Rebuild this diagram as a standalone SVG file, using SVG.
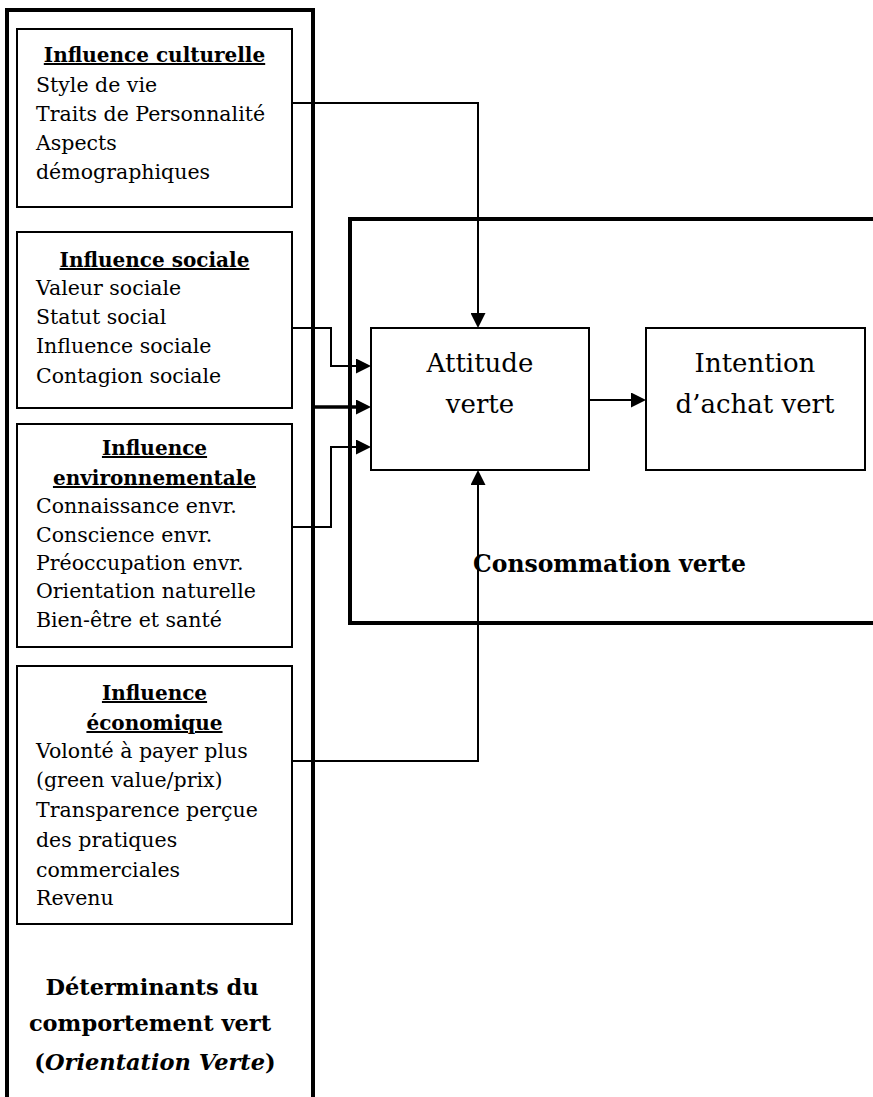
<svg xmlns="http://www.w3.org/2000/svg" width="873" height="1097" viewBox="0 0 873 1097">
<style>
.frame{fill:none;stroke:#000;stroke-width:4}
.box{fill:#fff;stroke:#000;stroke-width:2}
.t{font-family:"DejaVu Serif","Liberation Serif",serif;font-size:20.5px;fill:#000}
.h{font-family:"DejaVu Serif","Liberation Serif",serif;font-size:20px;font-weight:bold;fill:#000;text-anchor:middle;text-decoration:underline}
.big{font-family:"DejaVu Serif","Liberation Serif",serif;font-size:26px;fill:#000;text-anchor:middle}
.lbl{font-family:"DejaVu Serif","Liberation Serif",serif;font-size:22.5px;font-weight:bold;fill:#000}
.c{fill:none;stroke:#000;stroke-width:2}
.cb{fill:none;stroke:#000;stroke-width:3.5}
</style>
<defs>
<marker id="ah" markerUnits="userSpaceOnUse" markerWidth="15" markerHeight="15" refX="0" refY="7.5" orient="auto">
<path d="M0,0 L15,7.5 L0,15 z" fill="#000"/>
</marker>
</defs>
<rect width="873" height="1097" fill="#fff"/>
<g id="frame-determinants">
<path class="frame" d="M7,1097 V10 H313 V1097"/>
<text class="lbl" x="152" y="995" text-anchor="middle">Déterminants du</text>
<text class="lbl" x="150" y="1031" text-anchor="middle">comportement vert</text>
<text class="lbl" x="155" y="1070" text-anchor="middle">(<tspan font-style="italic">Orientation Verte</tspan>)</text>
</g>
<g id="frame-consommation">
<path class="frame" d="M873,219 H350 V623 H873"/>
<text class="lbl" x="473" y="572" style="font-size:23.5px">Consommation verte</text>
</g>
<g id="influence-culturelle">
<rect class="box" x="17" y="29" width="275" height="178"/>
<text class="h" x="154.5" y="62">Influence culturelle</text>
<text class="t" x="36" y="92">Style de vie</text>
<text class="t" x="36" y="121">Traits de Personnalité</text>
<text class="t" x="36" y="150">Aspects</text>
<text class="t" x="36" y="179">démographiques</text>
</g>
<g id="influence-sociale">
<rect class="box" x="17" y="232" width="275" height="176"/>
<text class="h" x="154.5" y="267">Influence sociale</text>
<text class="t" x="36" y="295">Valeur sociale</text>
<text class="t" x="36" y="324">Statut social</text>
<text class="t" x="36" y="353">Influence sociale</text>
<text class="t" x="36" y="383">Contagion sociale</text>
</g>
<g id="influence-environnementale">
<rect class="box" x="17" y="424" width="275" height="223"/>
<text class="h" x="154.5" y="455">Influence</text>
<text class="h" x="154.5" y="485">environnementale</text>
<text class="t" x="36" y="513">Connaissance envr.</text>
<text class="t" x="36" y="542">Conscience envr.</text>
<text class="t" x="36" y="570">Préoccupation envr.</text>
<text class="t" x="36" y="598">Orientation naturelle</text>
<text class="t" x="36" y="627">Bien-être et santé</text>
</g>
<g id="influence-economique">
<rect class="box" x="17" y="666" width="275" height="258"/>
<text class="h" x="154.5" y="700">Influence</text>
<text class="h" x="154.5" y="730">économique</text>
<text class="t" x="36" y="758">Volonté à payer plus</text>
<text class="t" x="36" y="787">(green value/prix)</text>
<text class="t" x="36" y="817">Transparence perçue</text>
<text class="t" x="36" y="847">des pratiques</text>
<text class="t" x="36" y="877">commerciales</text>
<text class="t" x="36" y="905">Revenu</text>
</g>
<g id="attitude-verte">
<rect class="box" x="371" y="328" width="218" height="142"/>
<text class="big" x="480" y="372">Attitude</text>
<text class="big" x="480" y="413">verte</text>
</g>
<g id="intention-achat">
<rect class="box" x="646" y="328" width="219" height="142"/>
<text class="big" x="755" y="372">Intention</text>
<text class="big" x="755" y="413">d’achat vert</text>
</g>
<g id="connectors">
<path class="c" d="M292,103 H478 V313" marker-end="url(#ah)"/>
<path class="c" d="M292,328 H331 V366 H356" marker-end="url(#ah)"/>
<path class="cb" d="M313,407 H356" marker-end="url(#ah)"/>
<path class="c" d="M292,527 H331 V447 H356" marker-end="url(#ah)"/>
<path class="c" d="M292,761 H478 V485" marker-end="url(#ah)"/>
<path class="c" d="M589,400 H631" marker-end="url(#ah)"/>
</g>
</svg>
